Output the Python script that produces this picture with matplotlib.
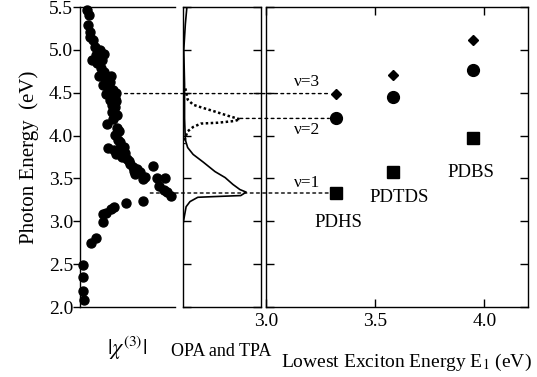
import matplotlib.pyplot as plt
import numpy as np
from matplotlib.patches import ConnectionPatch

plt.rcParams['font.family'] = 'Liberation Serif'
plt.rcParams['mathtext.fontset'] = 'stix'

# |chi(3)| spectrum (arbitrary units) vs photon energy (eV)
chi = [0.07, 0.09, 0.08, 0.11, 0.11, 0.14, 0.16, 0.21, 0.17, 0.13, 0.18, 0.23,
       0.22, 0.25, 0.20, 0.27, 0.24, 0.32, 0.29, 0.35, 0.27, 0.38, 0.32, 0.37,
       0.34, 0.37, 0.28, 0.35, 0.39, 0.37, 0.40, 0.29, 0.36, 0.42, 0.46, 0.38,
       0.44, 0.49, 0.53, 0.56, 0.60, 0.58, 0.66, 0.77, 0.81, 0.89, 0.83, 0.88,
       0.92, 0.96, 0.19, 0.25, 0.33, 0.31, 0.38, 0.35, 0.34, 0.39, 0.42, 0.41,
       0.47, 0.52, 0.57, 0.63, 0.68,
       0.66, 0.48, 0.36, 0.33, 0.27, 0.24, 0.24, 0.17, 0.12, 0.03, 0.03, 0.03,
       0.04]
chi_e = [5.47, 5.41, 5.29, 5.21, 5.15, 5.12, 5.03, 5.00, 4.94, 4.88, 4.85, 4.88,
         4.79, 4.74, 4.69, 4.65, 4.59, 4.62, 4.56, 4.53, 4.48, 4.50, 4.42, 4.44,
         4.36, 4.33, 4.13, 4.19, 4.09, 4.01, 3.95, 3.86, 3.83, 3.86, 3.87, 3.79,
         3.75, 3.73, 3.67, 3.63, 3.61, 3.55, 3.49, 3.65, 3.50, 3.50, 3.41, 3.36,
         3.34, 3.29, 4.98, 4.95, 4.70, 4.57, 4.40, 4.47, 4.28, 4.24, 3.92, 4.05,
         3.80, 3.70, 3.59, 3.57, 3.52,
         3.24, 3.21, 3.17, 3.14, 3.10, 3.08, 2.99, 2.80, 2.75, 2.49, 2.35, 2.19,
         2.08]

# one-photon (OPA) and two-photon (TPA) absorption, arbitrary units
opa_e = [5.50, 5.30, 5.00, 4.60, 4.20, 3.95, 3.86, 3.78, 3.69, 3.58, 3.51,
         3.43, 3.37, 3.34, 3.30, 3.29, 3.28, 3.23, 3.17, 3.02, 2.90, 2.83, 2.71]
opa = [0.05, 0.03, 0.01, 0.02, 0.02, 0.03, 0.06, 0.13, 0.26, 0.41, 0.54,
       0.64, 0.73, 0.81, 0.74, 0.45, 0.19, 0.09, 0.04, 0.01, -0.01, -0.01, -0.01]
tpa_e = [4.55, 4.51, 4.42, 4.36, 4.33, 4.28, 4.23, 4.19, 4.17, 4.15, 4.14,
         4.10, 4.05, 3.98, 3.90]
tpa = [0.03, 0.04, 0.06, 0.13, 0.23, 0.41, 0.58, 0.73, 0.66, 0.45, 0.23,
       0.13, 0.06, 0.03, 0.02]

# exciton levels vs lowest exciton energy E1
polymers = ['PDHS', 'PDTDS', 'PDBS']
e1 = [3.32, 3.58, 3.95]
nu1 = [3.33, 3.58, 3.97]
nu2 = [4.20, 4.45, 4.76]
nu3 = [4.49, 4.71, 5.12]

W, H = 537, 377
fig = plt.figure(figsize=(W / 100, H / 100), dpi=100)
ax1 = fig.add_axes([80 / W, 70 / H, 95 / W, 300 / H])
ax2 = fig.add_axes([183 / W, 70 / H, 78 / W, 300 / H])
ax3 = fig.add_axes([266 / W, 70 / H, 262 / W, 300 / H])

yt = np.arange(2.0, 5.51, 0.5)
for ax in (ax1, ax2, ax3):
    ax.set_ylim(2.0, 5.5)
    ax.set_yticks(yt)
    for s in ax.spines.values():
        s.set_linewidth(1.0)

# left: |chi(3)|
ax1.scatter(chi, chi_e, s=42, color='black', zorder=3, clip_on=False)
ax1.set_xlim(0, 1)
ax1.set_xticks([])
ax1.spines['right'].set_visible(False)
ax1.set_yticklabels(['%.1f' % v for v in yt])
ax1.tick_params(axis='y', direction='out', length=5, width=1, pad=0, labelsize=14)
ax1.set_ylabel('Photon Energy  (eV)', fontsize=15, labelpad=7)
ax1.set_xlabel(r'$|\chi^{(3)}|$', fontsize=16, labelpad=20)

# middle: OPA and TPA
ax2.plot(opa, opa_e, color='black', lw=1.2)
ax2.plot(tpa, tpa_e, color='black', lw=1.8, ls=(0, (1, 1)))
ax2.set_xlim(0, 1)
ax2.set_xticks([])
ax2.set_yticklabels([])
ax2.tick_params(axis='y', direction='in', length=6, width=1, left=True, right=True)

# right: exciton levels
ax3.plot(e1, nu1, 's', color='black', ms=8)
ax3.plot(e1, nu2, 'o', color='black', ms=8.5)
ax3.plot(e1, nu3, 'D', color='black', ms=5.5)
ax3.set_xlim(3.0, 4.2)
ax3.set_xticks([3.0, 3.5, 4.0])
ax3.set_xticklabels(['3.0', '3.5', '4.0'])
ax3.set_yticklabels([])
ax3.tick_params(direction='in', length=6, width=1, top=True, right=True,
                left=True, bottom=True, labelsize=14, pad=4)

fig.text(221 / W, 1 - 352 / H, 'OPA and TPA', fontsize=13,
         ha='center', va='center')
fig.text(406 / W, 1 - 362 / H, 'Lowest Exciton Energy E$_1$ (eV)', fontsize=14,
         ha='center', va='center')

ax3.text(3.19, 4.62, 'ν=3', fontsize=12.5, ha='center', va='center')
ax3.text(3.19, 4.06, 'ν=2', fontsize=12.5, ha='center', va='center')
ax3.text(3.19, 3.45, 'ν=1', fontsize=12.5, ha='center', va='center')
ax3.text(3.33, 2.99, polymers[0], fontsize=13.5, ha='center', va='center')
ax3.text(3.61, 3.28, polymers[1], fontsize=13.5, ha='center', va='center')
ax3.text(3.94, 3.57, polymers[2], fontsize=13.5, ha='center', va='center')

# dotted guides from the spectra to the PDHS levels
dots = dict(color='black', lw=1.0, ls=(0, (2, 2.5)))
for (xa, axa, ya) in [(0.47, ax1, nu3[0]), (0.73, ax2, nu2[0]), (0.74, ax1, nu1[0])]:
    con = ConnectionPatch(xyA=(xa, ya), coordsA=axa.transData,
                          xyB=(e1[0] - 0.03, ya), coordsB=ax3.transData, **dots)
    fig.add_artist(con)

fig.savefig('out.png', dpi=100)
